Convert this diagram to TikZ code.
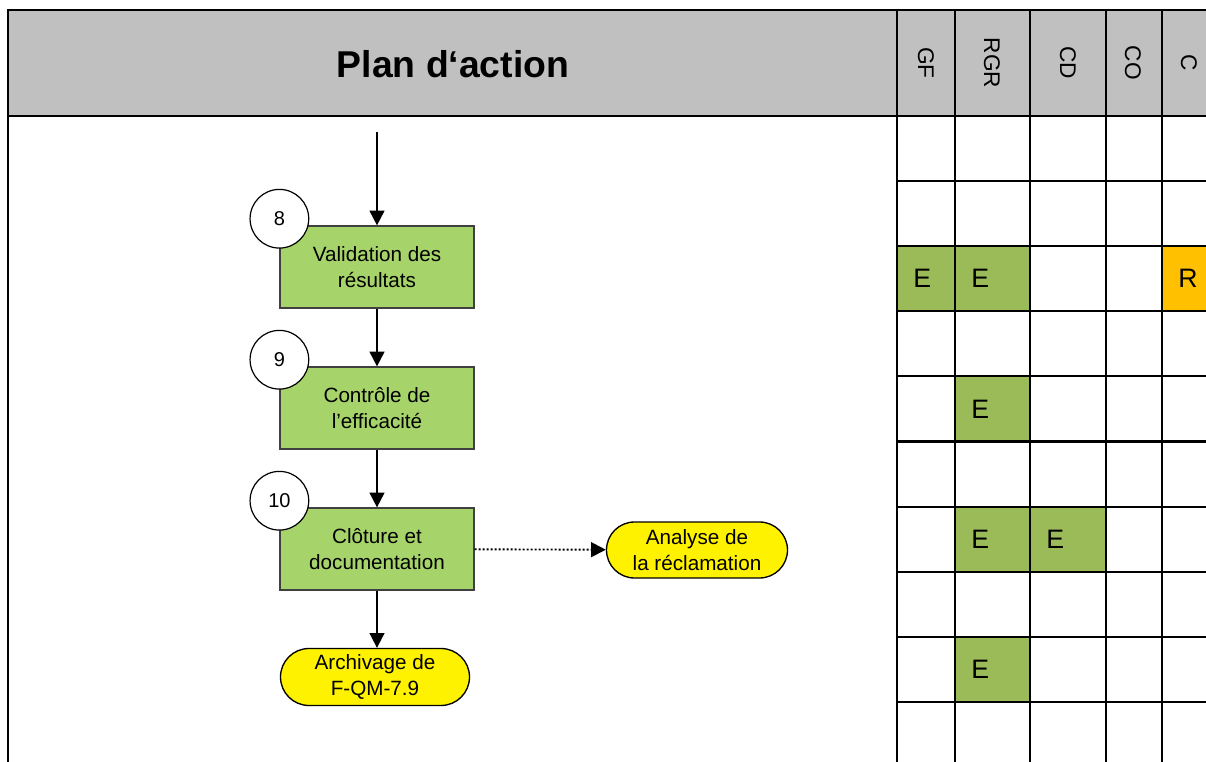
\documentclass[tikz,border=0pt]{standalone}
\usepackage{fontspec}
\setmainfont{Liberation Sans}
\usetikzlibrary{positioning,arrows.meta,shapes.misc}

\definecolor{headgray}{RGB}{192,192,192}
\definecolor{stepgreen}{RGB}{166,212,106}
\definecolor{cellgreen}{RGB}{155,187,89}
\definecolor{cellorange}{RGB}{255,192,0}

\tikzset{
  task/.style={draw=black!75, fill=stepgreen, line width=0.9pt, minimum width=145.5pt,
    minimum height=61.5pt, align=center, font=\fontsize{15.5}{19.5}\selectfont},
  nummark/.style={circle, draw, fill=white, line width=0.9pt, minimum size=44pt,
    inner sep=0pt, font=\fontsize{15}{18}\selectfont},
  term/.style={rounded rectangle, draw, fill=yellow, line width=1pt, align=center,
    inner sep=0pt, font=\fontsize{15.5}{19.5}\selectfont},
  flow/.style={line width=1.4pt, -{Triangle[length=11pt,width=11pt]}},
  grid/.style={line width=1.6pt},
  roletag/.style={rotate=-90, font=\fontsize{17}{20}\selectfont},
  cellmark/.style={anchor=west, inner sep=0pt, font=\fontsize{20}{24}\selectfont}
}

\begin{document}
\begin{tikzpicture}[x=0.75pt,y=-0.75pt]
  \clip (0,0) rectangle (1206,762);
  \fill[white] (0,0) rectangle (1206,762);

  % header band
  \fill[headgray] (8,10) rectangle (1220,116);
  \node[font=\bfseries\fontsize{28}{32}\selectfont] (title) at (453,64) {Plan d‘action};

  % filled cells of the role matrix
  \foreach \cl/\cr/\rw/\cc/\ct in {897/955/3/cellgreen/E, 955/1030/3/cellgreen/E,
      1162/1220/3/cellorange/R, 955/1030/5/cellgreen/E, 955/1030/7/cellgreen/E,
      1030/1106/7/cellgreen/E, 955/1030/9/cellgreen/E}{%
    \fill[\cc] (\cl,116+65.1*\rw-65.1) rectangle (\cr,116+65.1*\rw);
    \node[cellmark] at (\cl+16,116+65.1*\rw-32.5) {\ct};
  }

  % grid lines
  \draw[grid] (8,762) -- (8,10) -- (1220,10);
  \draw[grid] (8,116) -- (1220,116);
  \foreach \cx in {897,955,1030,1106,1162}
    \draw[grid] (\cx,10) -- (\cx,762);
  \foreach \rw in {1,...,9}
    \draw[grid] (897,116+65.1*\rw) -- (1220,116+65.1*\rw);

  % role columns
  \foreach \lx/\lt in {926/GF, 992/RGR, 1068/CD, 1133/CO, 1189/C}
    \node[roletag] at (\lx,63) {\lt};

  % flow
  \coordinate (in8) at (377,132);
  \node[task] (s8) at (377,267) {Validation des\\résultats};
  \node[task] (s9) at (377,408) {Contrôle de\\l’efficacité};
  \node[task] (s10) at (377,549) {Clôture et\\documentation};
  \node[nummark] (n8) at ([yshift=5pt]s8.north west) {8};
  \node[nummark] (n9) at ([yshift=5pt]s9.north west) {9};
  \node[nummark] (n10) at ([yshift=5pt]s10.north west) {10};
  \node[term, minimum width=141.75pt, minimum height=42.75pt] (archive) at (375,677)
    {Archivage de\\F-QM-7.9};
  \node[term, minimum width=135.75pt, minimum height=42pt] (analyse) at (697,550)
    {Analyse de\\la réclamation};

  \draw[flow] (in8) -- (s8);
  \draw[flow] (s8) -- (s9);
  \draw[flow] (s9) -- (s10);
  \draw[flow] (s10.south) -- (s10.south |- archive.north);
  \draw[flow, dash pattern=on 1.6pt off 1.4pt] (s10) -- (analyse);
\end{tikzpicture}
\end{document}
